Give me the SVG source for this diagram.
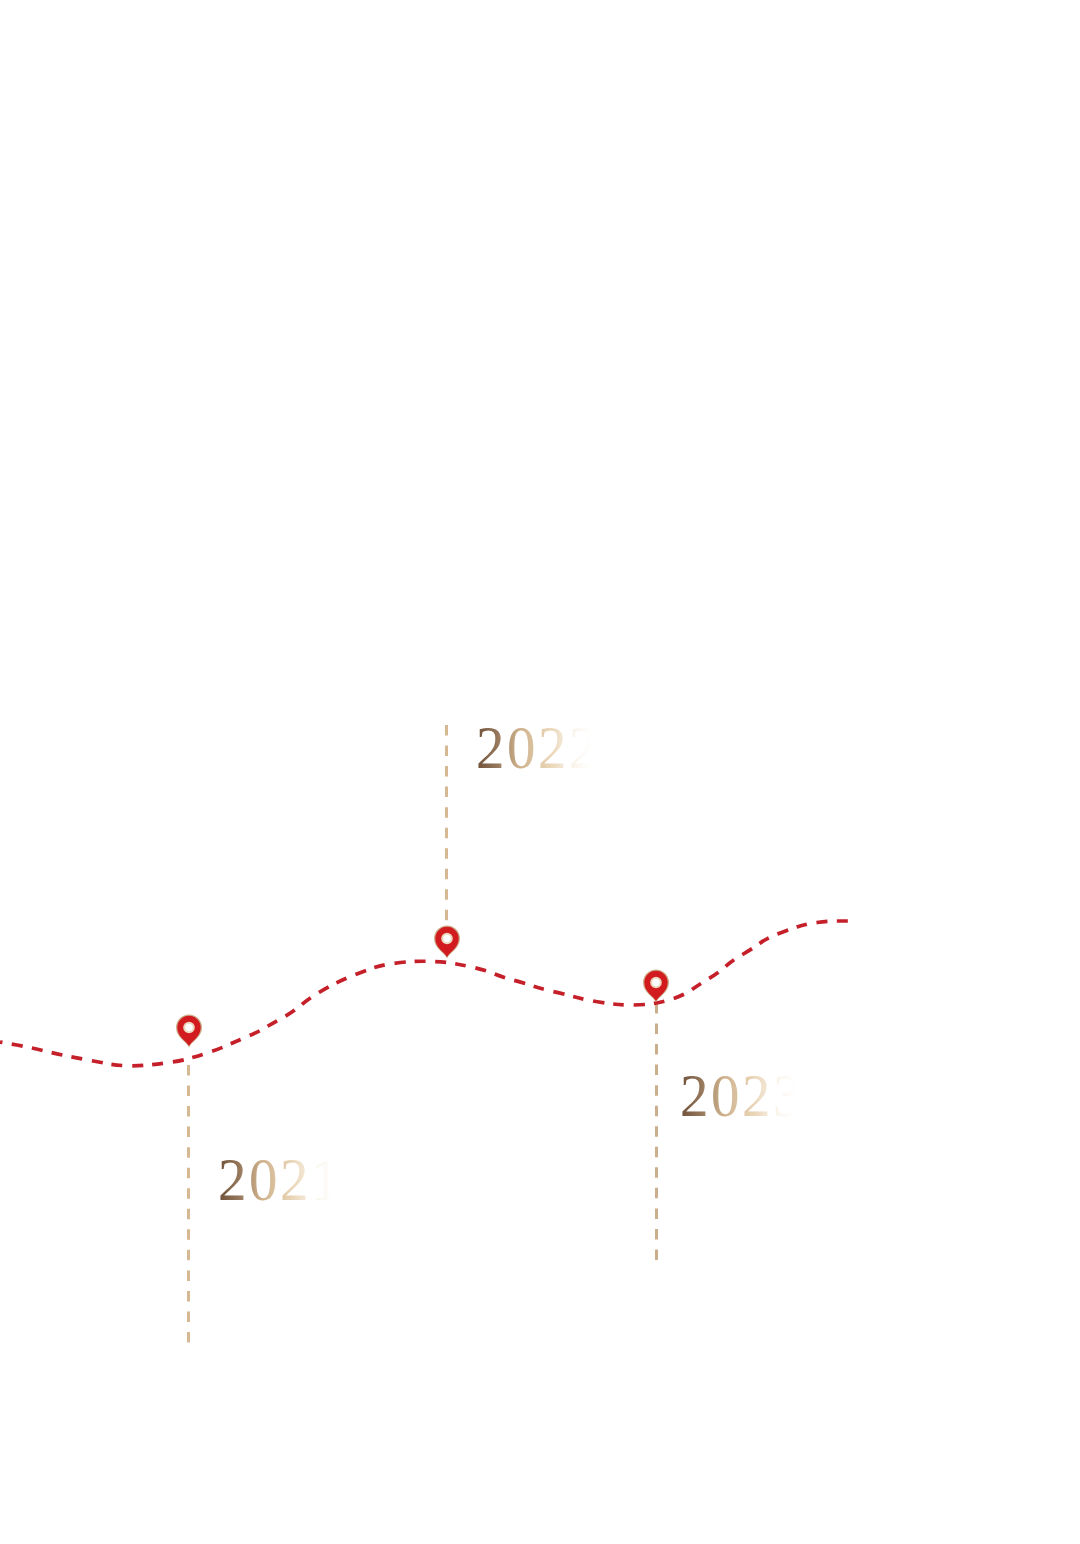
<svg xmlns="http://www.w3.org/2000/svg" width="1080" height="1544" viewBox="0 0 1080 1544">
<style>
.year{font-family:"Liberation Serif","Times New Roman",serif;font-size:62px;letter-spacing:2.700px;fill:url(#fade)}
.drop{fill:none;stroke:#d6b893;stroke-width:3;stroke-dasharray:10.500 10.040}
.curve{fill:none;stroke:#c5202a;stroke-width:3.700;stroke-dasharray:11 9.400;stroke-dashoffset:8.500}
.pinb{fill:#cbac88}
.pinf{fill:#d11b1f}
.pinr{fill:#ecd8bd}
.pinh{fill:#fff}
</style>
<defs>
<linearGradient id="fade" gradientUnits="userSpaceOnUse" x1="0" y1="0" x2="125" y2="0"><stop offset="0" stop-color="#6e5038"/><stop offset=".18" stop-color="#94775b"/><stop offset=".37" stop-color="#cdb08a"/><stop offset=".65" stop-color="#ead6b8"/><stop offset=".85" stop-color="#faf5ec"/><stop offset="1" stop-color="#fff"/></linearGradient>
<g id="pin"><path class="pinb" d="M0 17C-2.500 11-13 7-13 -3A13 13 0 0 1 13 -3C13 7 2.500 11 0 17Z"/><path class="pinf" d="M0 15.500C-2.500 10.500-11.700 6.500-11.700 -3A11.700 11.700 0 0 1 11.700 -3C11.700 6.500 2.500 10.500 0 15.500Z"/><circle class="pinr" r="5.800" cy="-3"/><circle class="pinh" r="3.700" cy="-3"/></g>
</defs>
<rect width="1080" height="1544" fill="#fff"/>
<g id="connectors">
<path class="drop" d="M188.500 1065V1343"/>
<path class="drop" d="M446.500 725V921"/>
<path class="drop" d="M656.500 1003V1260" style="stroke:#cbae8c"/>
<path class="curve" d="M0 1042L17 1045Q37 1049 47 1051.500T67 1056T88 1060T108 1063.750T128 1065.750T148.500 1065T169 1062.500T189 1058.500T208.500 1052.500T228 1045T247.500 1036.500T265.500 1027.500T283 1017.500T300 1006T316.500 994T334 984T353 975.500T373 968T393 963.500T413 961.500T433.500 961.500T454 963.500T474 967.500T493.500 973.500T513 980T533 986T553 991.500T573 996.500T593 1001T613 1004T633 1005T653.500 1003.500T673.500 998.500T692 989.500T709 978.500T725.500 966.500T742.500 954.500T759.500 943.500T777.500 934T797 927T817 922.500T836 921L848 921"/>
</g>
<g id="node-2021"><use href="#pin" x="189" y="1030.500"/><text class="year" transform="translate(218 1200) scale(.92 1)">2021</text></g>
<g id="node-2022"><use href="#pin" x="447" y="941.500"/><text class="year" transform="translate(476 768) scale(.92 1)">2022</text></g>
<g id="node-2023"><use href="#pin" x="656" y="985.500"/><text class="year" transform="translate(680 1116) scale(.92 1)">2023</text></g>
</svg>
